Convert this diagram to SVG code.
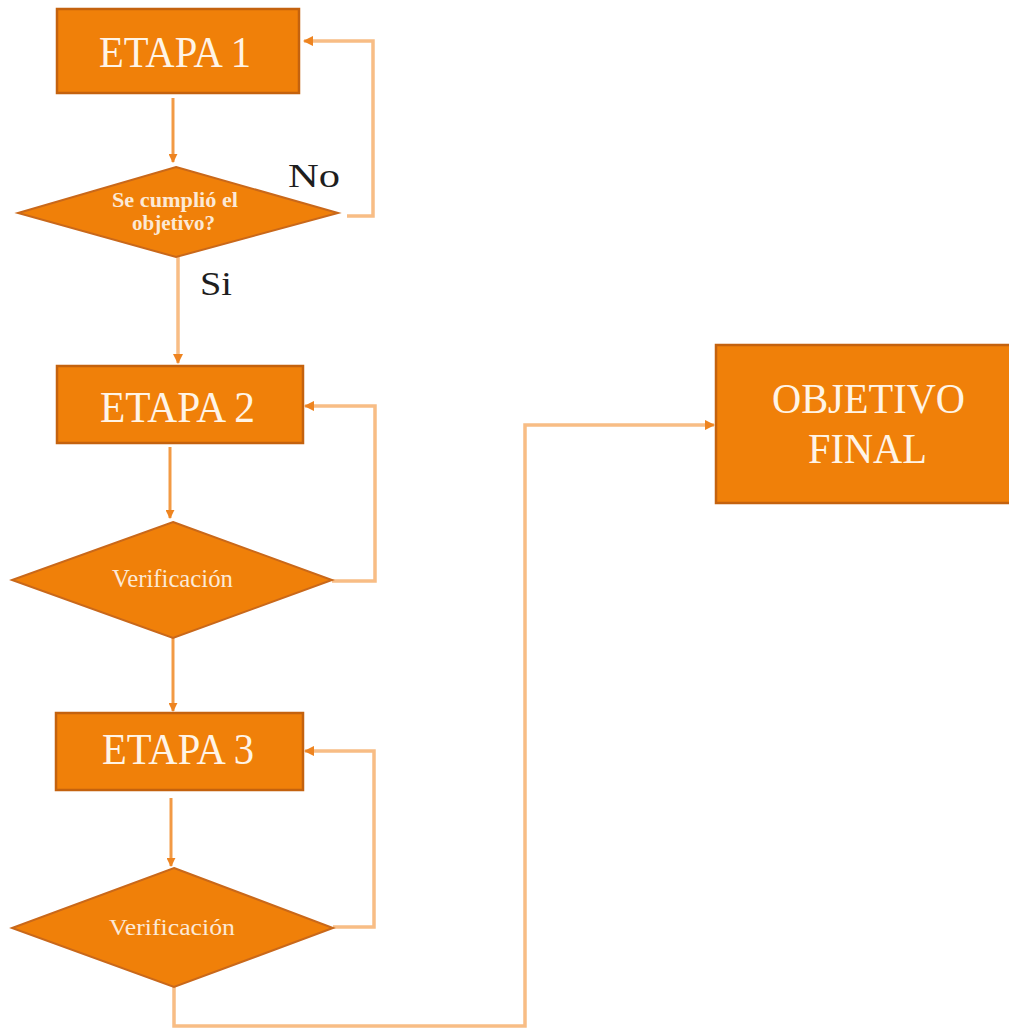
<svg xmlns="http://www.w3.org/2000/svg" width="1009" height="1028" viewBox="0 0 1009 1028">
  <style>
    .box { fill: #F08009; stroke: #C4620E; stroke-width: 2.5; }
    .dia { fill: #F08009; stroke: #C9681A; stroke-width: 2; }
    .title { font-family: "Liberation Serif", "Times New Roman", serif; fill: #FFF4E6; text-anchor: middle; }
    .small { font-family: "Liberation Serif", "Times New Roman", serif; fill: #FCE9D6; text-anchor: middle; }
    .lbl { font-family: "Liberation Serif", "Times New Roman", serif; fill: #1E1E1E; }
    .down { fill: none; stroke: #F29A45; stroke-width: 3; }
    .loop { fill: none; stroke: #F8BD85; stroke-width: 3.5; }
  </style>
  <defs>
    <marker id="arrow" viewBox="0 0 10 10" refX="9" refY="5" markerWidth="3" markerHeight="3" orient="auto" markerUnits="strokeWidth">
      <path d="M0,0 L10,5 L0,10 Z" fill="#EE8420"/>
    </marker>
  </defs>

  <rect width="1009" height="1028" fill="#FFFFFF"/>

  <!-- connectors -->
  <g id="connectors">
    <!-- ETAPA 1 -> decision -->
    <path class="down" d="M173,98 V162" marker-end="url(#arrow)"/>
    <!-- decision "No" loop back to ETAPA 1 -->
    <path class="loop" d="M347,216 H373 V41 H304" marker-end="url(#arrow)"/>
    <!-- decision "Si" -> ETAPA 2 -->
    <path class="loop" d="M178,257 V363" marker-end="url(#arrow)"/>
    <!-- ETAPA 2 -> verification -->
    <path class="down" d="M170,447 V518" marker-end="url(#arrow)"/>
    <!-- verification loop back to ETAPA 2 -->
    <path class="loop" d="M332,581 H375 V406 H305" marker-end="url(#arrow)"/>
    <!-- verification -> ETAPA 3 -->
    <path class="down" d="M173,638 V711" marker-end="url(#arrow)"/>
    <!-- ETAPA 3 -> verification -->
    <path class="down" d="M171,798 V866" marker-end="url(#arrow)"/>
    <!-- verification loop back to ETAPA 3 -->
    <path class="loop" d="M333,927 H374 V751 H305" marker-end="url(#arrow)"/>
    <!-- final verification -> OBJETIVO FINAL -->
    <path class="loop" d="M174,987 V1026 H525 V425 H714" marker-end="url(#arrow)"/>
  </g>

  <!-- ETAPA 1 -->
  <g id="etapa1">
    <rect class="box" x="57" y="9" width="242" height="84"/>
    <text class="title" x="175" y="67" font-size="45" textLength="152" lengthAdjust="spacingAndGlyphs">ETAPA 1</text>
  </g>

  <!-- decision 1 -->
  <g id="decision1">
    <polygon class="dia" points="176,167 338,213 176,257 18,213"/>
    <text class="small" x="175" y="207" font-size="20" font-weight="bold" textLength="126" lengthAdjust="spacingAndGlyphs">Se cumplió el</text>
    <text class="small" x="173.5" y="230" font-size="20" font-weight="bold" textLength="83" lengthAdjust="spacingAndGlyphs">objetivo?</text>
  </g>

  <!-- branch labels -->
  <g id="labels">
    <text class="lbl" x="288" y="187" font-size="34" textLength="52" lengthAdjust="spacingAndGlyphs">No</text>
    <text class="lbl" x="200" y="295" font-size="33" textLength="32" lengthAdjust="spacingAndGlyphs">Si</text>
  </g>

  <!-- ETAPA 2 -->
  <g id="etapa2">
    <rect class="box" x="57" y="366" width="246" height="77"/>
    <text class="title" x="177.5" y="422" font-size="45" textLength="155" lengthAdjust="spacingAndGlyphs">ETAPA 2</text>
  </g>

  <!-- verification 2 -->
  <g id="verif2">
    <polygon class="dia" points="173,522 332,580 173,638 12,580"/>
    <text class="small" x="172.5" y="587" font-size="25" textLength="121" lengthAdjust="spacingAndGlyphs">Verificación</text>
  </g>

  <!-- ETAPA 3 -->
  <g id="etapa3">
    <rect class="box" x="56" y="713" width="247" height="77"/>
    <text class="title" x="178" y="764" font-size="44" textLength="152" lengthAdjust="spacingAndGlyphs">ETAPA 3</text>
  </g>

  <!-- verification 3 -->
  <g id="verif3">
    <polygon class="dia" points="174,868 333,928 174,987 12,928"/>
    <text class="small" x="172" y="935" font-size="24" textLength="126" lengthAdjust="spacingAndGlyphs">Verificación</text>
  </g>

  <!-- OBJETIVO FINAL -->
  <g id="objetivo">
    <rect class="box" x="716" y="345" width="300" height="158"/>
    <text class="title" x="868.5" y="413" font-size="42" textLength="193" lengthAdjust="spacingAndGlyphs">OBJETIVO</text>
    <text class="title" x="867.5" y="463" font-size="42" textLength="119" lengthAdjust="spacingAndGlyphs">FINAL</text>
  </g>
</svg>
